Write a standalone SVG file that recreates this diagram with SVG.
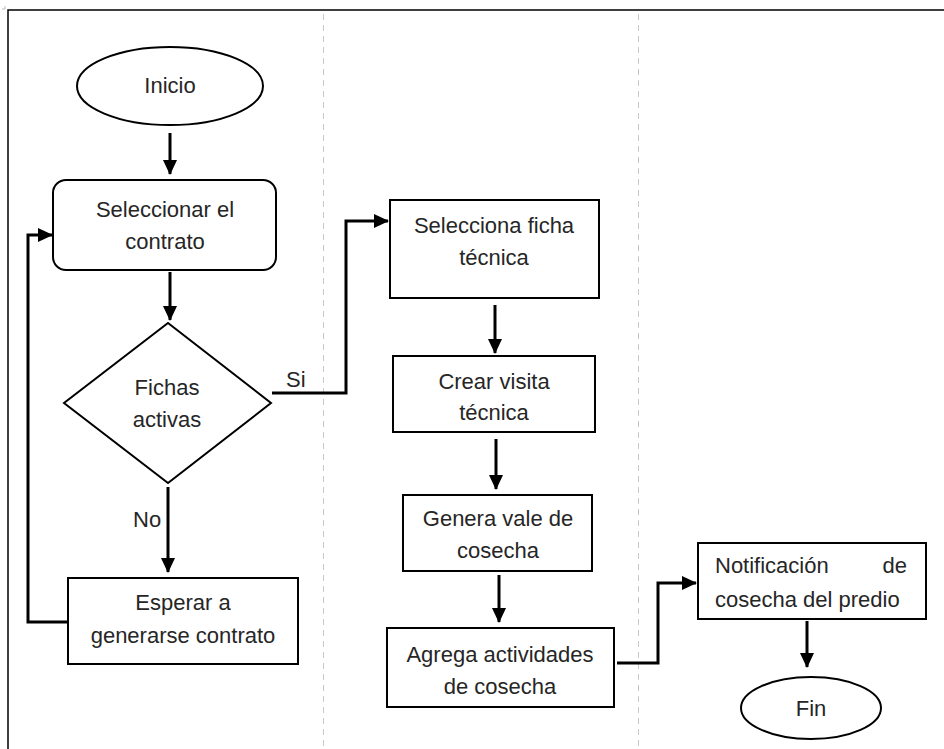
<svg xmlns="http://www.w3.org/2000/svg" width="944" height="749" viewBox="0 0 944 749">
  <style>
    .shape { fill: #fff; stroke: #000; stroke-width: 2; }
    .lane { stroke: #c8c8c8; stroke-width: 1; stroke-dasharray: 6 5; fill: none; }
    .frame { stroke: #000; stroke-width: 1.5; fill: none; }
    .conn { stroke: #000; stroke-width: 3; fill: none; }
    text { font-family: "Liberation Sans", Arial, sans-serif; font-size: 22px; fill: #262626; }
    .c { text-anchor: middle; }
  </style>
  <defs>
    <marker id="arrow" markerUnits="userSpaceOnUse" markerWidth="16" markerHeight="14" refX="14" refY="7" orient="auto">
      <path d="M0,0 L15,7 L0,14 Z" fill="#000"/>
    </marker>
  </defs>

  <rect width="944" height="749" fill="#fff"/>

  <!-- page frame and swimlane separators -->
  <path d="M5,6 V9 H2" stroke="#bbb" stroke-width="1" fill="none"/>
  <path class="frame" d="M8,749 V10 H944"/>
  <line class="lane" x1="323.5" y1="14" x2="323.5" y2="749"/>
  <line class="lane" x1="638.5" y1="14" x2="638.5" y2="749"/>

  <!-- connectors -->
  <g id="connectors">
    <line class="conn" x1="170" y1="133" x2="170" y2="174" marker-end="url(#arrow)"/>
    <line class="conn" x1="170" y1="272" x2="170" y2="320" marker-end="url(#arrow)"/>
    <polyline class="conn" points="272,393 346,393 346,221 388,221" marker-end="url(#arrow)"/>
    <line class="conn" x1="168" y1="487" x2="168" y2="572" marker-end="url(#arrow)"/>
    <polyline class="conn" points="68,622 28,622 28,235 52,235" marker-end="url(#arrow)"/>
    <line class="conn" x1="495" y1="305" x2="495" y2="353" marker-end="url(#arrow)"/>
    <line class="conn" x1="496" y1="439" x2="496" y2="489" marker-end="url(#arrow)"/>
    <line class="conn" x1="499" y1="575" x2="499" y2="622" marker-end="url(#arrow)"/>
    <polyline class="conn" points="617,663 658,663 658,583 696,583" marker-end="url(#arrow)"/>
    <line class="conn" x1="807" y1="621" x2="807" y2="667" marker-end="url(#arrow)"/>
  </g>

  <!-- nodes -->
  <g id="inicio">
    <ellipse class="shape" cx="170" cy="86" rx="93" ry="39"/>
    <text class="c" x="170" y="93">Inicio</text>
  </g>

  <g id="seleccionar-contrato">
    <rect class="shape" x="53" y="180" width="223" height="90" rx="13"/>
    <text class="c" x="165" y="217">Seleccionar el</text>
    <text class="c" x="165" y="249">contrato</text>
  </g>

  <g id="fichas-activas">
    <polygon class="shape" points="168,323 271,403 168,483 64,403"/>
    <text class="c" x="167" y="395">Fichas</text>
    <text class="c" x="167" y="427">activas</text>
  </g>

  <g id="label-si">
    <text x="286" y="387">Si</text>
  </g>

  <g id="label-no">
    <text x="133" y="527">No</text>
  </g>

  <g id="esperar-contrato">
    <rect class="shape" x="68" y="578" width="230" height="86"/>
    <text class="c" x="183" y="610">Esperar a</text>
    <text class="c" x="183" y="643">generarse contrato</text>
  </g>

  <g id="selecciona-ficha">
    <rect class="shape" x="390" y="200" width="209" height="98"/>
    <text class="c" x="494" y="233">Selecciona ficha</text>
    <text class="c" x="494" y="265">técnica</text>
  </g>

  <g id="crear-visita">
    <rect class="shape" x="393" y="356" width="202" height="76"/>
    <text class="c" x="494" y="389">Crear visita</text>
    <text class="c" x="494" y="420">técnica</text>
  </g>

  <g id="genera-vale">
    <rect class="shape" x="403" y="495" width="189" height="76"/>
    <text class="c" x="498" y="526">Genera vale de</text>
    <text class="c" x="498" y="558">cosecha</text>
  </g>

  <g id="agrega-actividades">
    <rect class="shape" x="387" y="628" width="227" height="79"/>
    <text class="c" x="500" y="662">Agrega actividades</text>
    <text class="c" x="500" y="694">de cosecha</text>
  </g>

  <g id="notificacion">
    <rect class="shape" x="698" y="543" width="228" height="76"/>
    <text x="715" y="573">Notificación</text>
    <text x="907" y="573" text-anchor="end">de</text>
    <text x="715" y="607">cosecha del predio</text>
  </g>

  <g id="fin">
    <ellipse class="shape" cx="811" cy="708" rx="70" ry="31"/>
    <text class="c" x="811" y="716">Fin</text>
  </g>
</svg>
